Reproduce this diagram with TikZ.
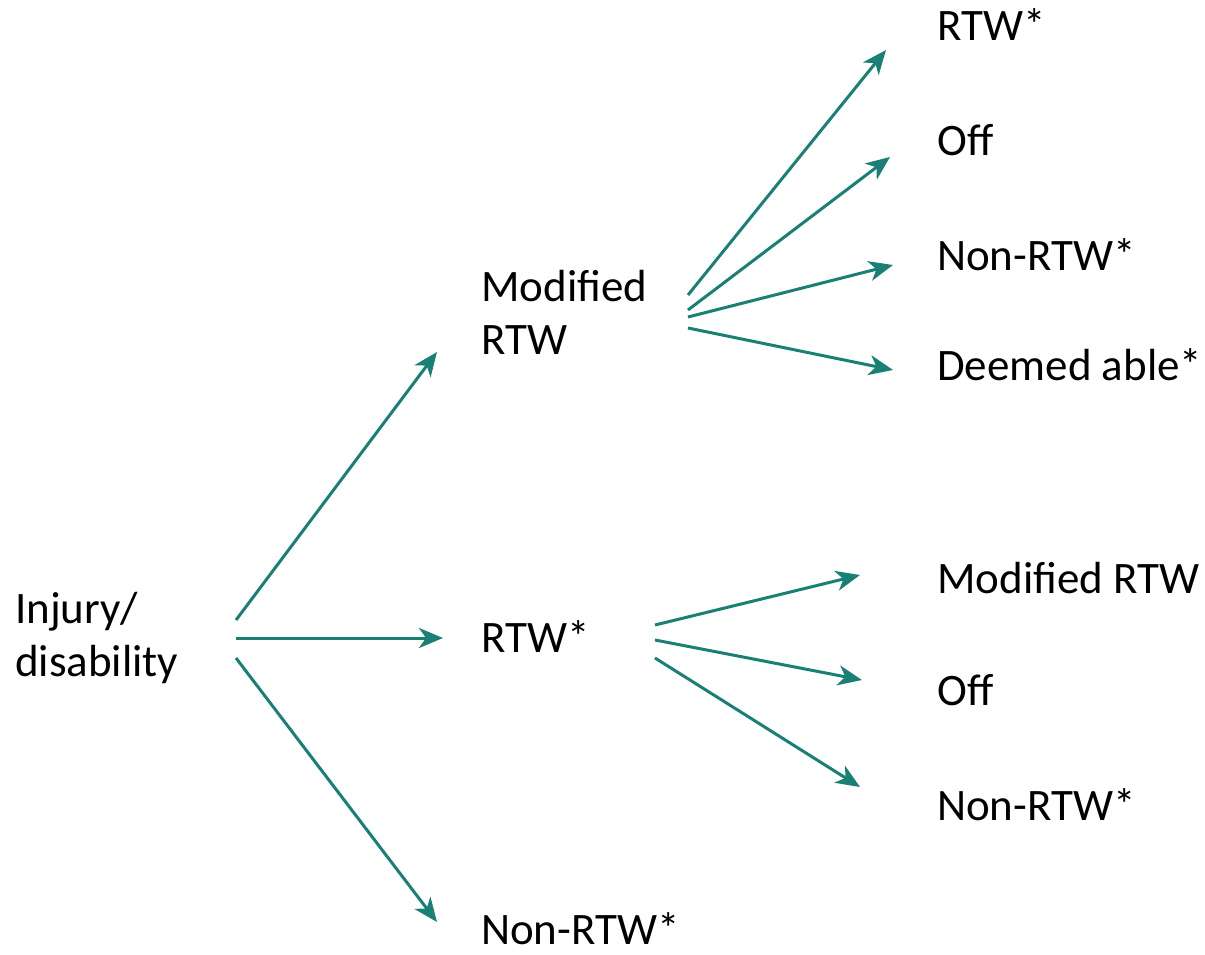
\documentclass[tikz,border=0pt]{standalone}
\usepackage{fontspec}
\setmainfont{Carlito}
\usetikzlibrary{arrows.meta}
\definecolor{teal1}{HTML}{1A7F74}
\tikzset{
  lbl/.style={anchor=west, inner sep=0pt, align=left, font=\fontsize{45}{53}\selectfont},
  arr/.style={draw=teal1, line width=3pt, -{Stealth[length=24pt,width=20pt,inset=7pt]}}
}
\begin{document}
\begin{tikzpicture}[x=1pt,y=-1pt]
\useasboundingbox (0,0) rectangle (1205,955);
\node[lbl] (inj) at (15,638) {Injury/\\disability};
\node[lbl] (mod) at (481,312) {Modified\\RTW};
\node[lbl] (rtw) at (481,637) {RTW*};
\node[lbl] (non) at (481,929) {Non-RTW*};
\node[lbl] (a1) at (937,25) {RTW*};
\node[lbl] (a2) at (937,140) {Off};
\node[lbl] (a3) at (937,255) {Non-RTW*};
\node[lbl] (a4) at (937,365) {Deemed able*};
\node[lbl] (b1) at (937,578) {Modified RTW};
\node[lbl] (b2) at (937,690) {Off};
\node[lbl] (b3) at (937,805) {Non-RTW*};
% start/end coordinates
\coordinate (s1) at (236,620); \coordinate (e1) at (437,352);
\coordinate (s2) at (236,638); \coordinate (e2) at (443,638);
\coordinate (s3) at (236,658); \coordinate (e3) at (437,922);
\coordinate (m1) at (688,295); \coordinate (f1) at (886,50);
\coordinate (m2) at (688,310); \coordinate (f2) at (890,157);
\coordinate (m3) at (688,317); \coordinate (f3) at (893,265);
\coordinate (m4) at (688,328); \coordinate (f4) at (893,370);
\coordinate (r1) at (655,625); \coordinate (g1) at (860,575);
\coordinate (r2) at (655,640); \coordinate (g2) at (862,680);
\coordinate (r3) at (655,658); \coordinate (g3) at (860,787);
\draw[arr] (s1) -- (e1);
\draw[arr] (s2) -- (e2);
\draw[arr] (s3) -- (e3);
\draw[arr] (m1) -- (f1);
\draw[arr] (m2) -- (f2);
\draw[arr] (m3) -- (f3);
\draw[arr] (m4) -- (f4);
\draw[arr] (r1) -- (g1);
\draw[arr] (r2) -- (g2);
\draw[arr] (r3) -- (g3);
\end{tikzpicture}
\end{document}
